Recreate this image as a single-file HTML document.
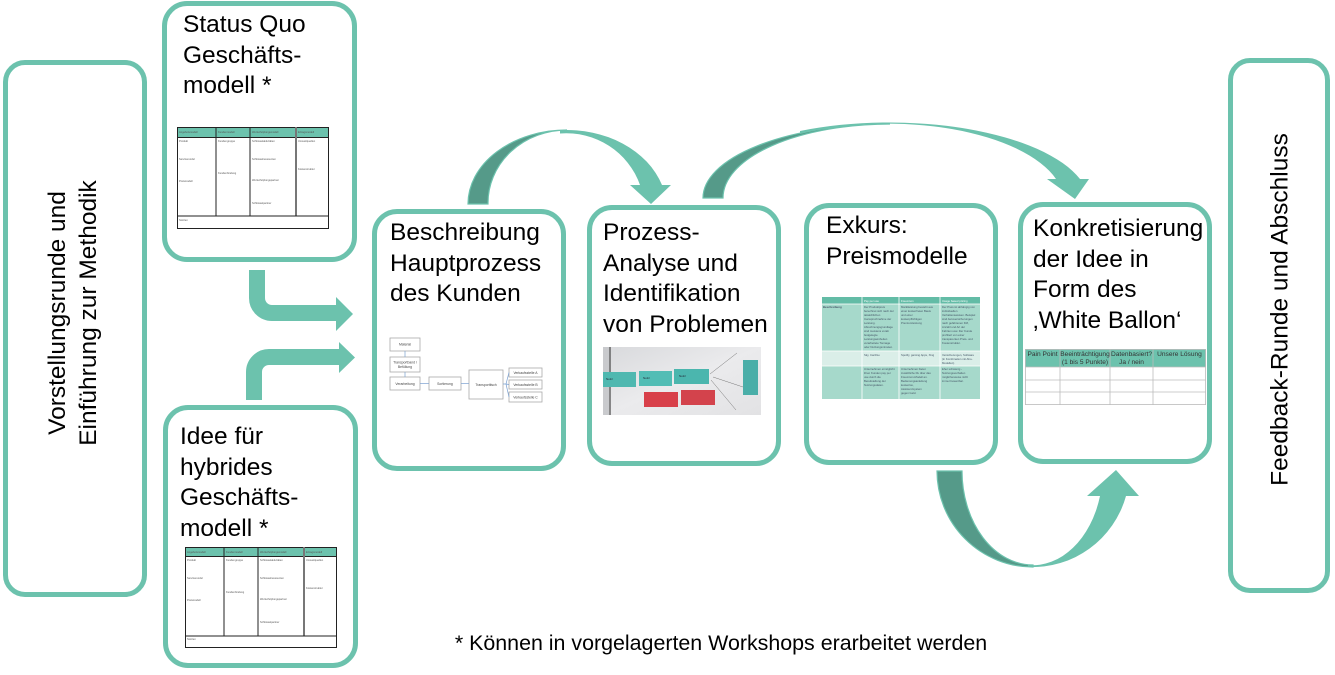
<!DOCTYPE html>
<html><head><meta charset="utf-8">
<style>
html,body{margin:0;padding:0;background:#fff;}
body{width:1335px;height:675px;position:relative;overflow:hidden;font-family:"Liberation Sans",Arial,sans-serif;color:#000;}
.box{position:absolute;box-sizing:border-box;border:5px solid #6cc2ad;border-radius:25px;background:#fff;}
.t{position:absolute;font-size:24.5px;line-height:30.5px;white-space:nowrap;}
.rot{position:absolute;font-size:24.5px;line-height:31px;text-align:center;white-space:nowrap;transform:rotate(-90deg);}
svg{position:absolute;overflow:visible;}
</style></head><body>

<!-- boxes -->
<div class="box" style="left:3px;top:60px;width:144px;height:537px;border-radius:22px;"></div>
<div class="box" style="left:162px;top:1px;width:195px;height:261px;"></div>
<div class="box" style="left:163px;top:405px;width:195px;height:263px;"></div>
<div class="box" style="left:372px;top:209px;width:194px;height:262px;"></div>
<div class="box" style="left:587px;top:205px;width:194px;height:261px;"></div>
<div class="box" style="left:804px;top:203px;width:194px;height:262px;"></div>
<div class="box" style="left:1018px;top:202px;width:194px;height:262px;"></div>
<div class="box" style="left:1228px;top:58px;width:102px;height:535px;border-radius:22px;"></div>

<!-- texts -->
<div class="rot" style="left:-127px;top:282px;width:400px;height:62px;">Vorstellungsrunde und<br>Einführung zur Methodik</div>
<div class="rot" style="left:1070px;top:294px;width:420px;height:31px;">Feedback-Runde und Abschluss</div>

<div class="t" style="left:183px;top:10px;">Status Quo<br>Geschäfts-<br>modell *</div>
<div class="t" style="left:180px;top:422px;">Idee für<br>hybrides<br>Geschäfts-<br>modell *</div>
<div class="t" style="left:390px;top:218px;">Beschreibung<br>Hauptprozess<br>des Kunden</div>
<div class="t" style="left:603px;top:218px;">Prozess-<br>Analyse und<br>Identifikation<br>von Problemen</div>
<div class="t" style="left:826px;top:211px;">Exkurs:<br>Preismodelle</div>
<div class="t" style="left:1033px;top:214px;">Konkretisierung<br>der Idee in<br>Form des<br>‚White Ballon‘</div>

<div style="position:absolute;left:371px;top:630px;width:700px;text-align:center;font-size:21.4px;line-height:26px;white-space:nowrap;">* Können in vorgelagerten Workshops erarbeitet werden</div>

<!-- Status Quo table -->
<svg style="left:177px;top:127px;" width="152" height="102" viewBox="0 0 152 102">
<rect x="0.5" y="0.5" width="151" height="101" fill="#fff" stroke="#222" stroke-width="1"/>
<rect x="0.5" y="0.5" width="151" height="10" fill="#6cc2ad" stroke="#222" stroke-width="1"/>
<line x1="39" y1="0" x2="39" y2="89" stroke="#222"/>
<line x1="73" y1="0" x2="73" y2="89" stroke="#222"/>
<line x1="119" y1="0" x2="119" y2="89" stroke="#777" stroke-width="2"/>
<line x1="0" y1="89" x2="152" y2="89" stroke="#222"/>
<g font-size="2.6" fill="#555">
<text x="2" y="6">Angebotsmodell</text><text x="41" y="6">Kundenmodell</text><text x="75" y="6">Wertschöpfungsmodell</text><text x="121" y="6">Ertragsmodell</text>
<text x="2" y="15">Produkt</text><text x="2" y="33">Servicemodul</text><text x="2" y="55">Preismodell</text>
<text x="41" y="15">Kundengruppe</text><text x="41" y="47">Kundenbindung</text>
<text x="75" y="15">Schlüsselaktivitäten</text><text x="75" y="33">Schlüsselressourcen</text><text x="75" y="54">Wertschöpfungspartner</text><text x="75" y="77">Schlüsselpartner</text>
<text x="121" y="15">Umsatzquellen</text><text x="121" y="43">Kostenstruktur</text>
<text x="2" y="94">Notizen</text>
</g>
</svg>

<!-- Idee table -->
<svg style="left:185px;top:547px;" width="152" height="101" viewBox="0 0 152 101">
<rect x="0.5" y="0.5" width="151" height="100" fill="#fff" stroke="#222" stroke-width="1"/>
<rect x="0.5" y="0.5" width="151" height="9" fill="#6cc2ad" stroke="#222" stroke-width="1"/>
<line x1="39" y1="0" x2="39" y2="89" stroke="#222"/>
<line x1="73" y1="0" x2="73" y2="89" stroke="#222"/>
<line x1="119" y1="0" x2="119" y2="89" stroke="#777" stroke-width="2"/>
<line x1="0" y1="89" x2="152" y2="89" stroke="#222"/>
<g font-size="2.6" fill="#555">
<text x="2" y="6">Angebotsmodell</text><text x="41" y="6">Kundenmodell</text><text x="75" y="6">Wertschöpfungsmodell</text><text x="121" y="6">Ertragsmodell</text>
<text x="2" y="14">Produkt</text><text x="2" y="32">Servicemodul</text><text x="2" y="54">Preismodell</text>
<text x="41" y="14">Kundengruppe</text><text x="41" y="46">Kundenbindung</text>
<text x="75" y="14">Schlüsselaktivitäten</text><text x="75" y="32">Schlüsselressourcen</text><text x="75" y="53">Wertschöpfungspartner</text><text x="75" y="76">Schlüsselpartner</text>
<text x="121" y="14">Umsatzquellen</text><text x="121" y="42">Kostenstruktur</text>
<text x="2" y="93">Notizen</text>
</g>
</svg>

<!-- Beschreibung process diagram -->
<svg style="left:385px;top:333px;" width="160" height="75" viewBox="385 333 160 75">
<g fill="#fff" stroke="#aaa" stroke-width="0.8">
<rect x="390" y="338" width="30" height="13"/>
<rect x="390" y="357" width="30" height="15"/>
<rect x="390" y="377" width="30" height="13"/>
<rect x="429" y="377" width="32" height="13"/>
<rect x="469" y="370" width="34" height="29"/>
<rect x="509" y="368" width="33" height="9"/>
<rect x="509" y="380" width="33" height="9"/>
<rect x="509" y="392" width="33" height="10"/>
</g>
<g stroke="#7aa0d0" stroke-width="0.7" fill="none">
<line x1="405" y1="357" x2="405" y2="351"/>
<line x1="405" y1="377" x2="405" y2="372"/>
<line x1="420" y1="383.5" x2="429" y2="383.5"/>
<line x1="461" y1="383.5" x2="469" y2="383.5"/>
<path d="M503,384 L506,384 L509,372.5 M506,384 L509,384.5 M506,384 L509,397"/>
</g>
<g font-size="3.4" fill="#444" text-anchor="middle">
<text x="405" y="345.5">Material</text>
<text x="405" y="363.5">Transportband /</text><text x="405" y="368">Befüllung</text>
<text x="405" y="385">Verarbeitung</text>
<text x="445" y="385">Sortierung</text>
<text x="486" y="386">Transporttisch</text>
<text x="525.5" y="374">Verkaufsstelle A</text>
<text x="525.5" y="386">Verkaufsstelle B</text>
<text x="525.5" y="398.5">Verkaufsstelle C</text>
</g>
</svg>

<!-- Prozess photo -->
<svg style="left:603px;top:347px;" width="158" height="68" viewBox="0 0 158 68">
<defs><linearGradient id="pg" x1="0" y1="0" x2="1" y2="1"><stop offset="0" stop-color="#d8d9dc"/><stop offset="0.5" stop-color="#ebebed"/><stop offset="1" stop-color="#e2e2e4"/></linearGradient></defs>
<rect width="158" height="68" fill="url(#pg)"/>
<rect x="0" y="0" width="6" height="68" fill="#c9cacd"/>
<line x1="7" y1="0" x2="7" y2="68" stroke="#444" stroke-width="1.2"/>
<g stroke="#777" stroke-width="0.5" fill="none">
<line x1="107" y1="27" x2="134" y2="6"/>
<line x1="110" y1="30" x2="140" y2="40"/>
<line x1="108" y1="33" x2="133" y2="63"/>
</g>
<rect x="0" y="25" width="33" height="15" fill="#4fb8b0"/>
<rect x="36" y="24" width="33" height="15" fill="#52bdb5"/>
<rect x="71" y="22" width="35" height="15" fill="#4bb6ae"/>
<rect x="140" y="13" width="15" height="35" fill="#4aaea8"/>
<rect x="41" y="45" width="34" height="15" fill="#d8404a"/>
<rect x="78" y="43" width="34" height="15" fill="#d3434c"/>
<g font-size="3" fill="#223"><text x="3" y="33">Notiz</text><text x="40" y="32">Notiz</text><text x="76" y="30">Notiz</text></g>
</svg>

<!-- Exkurs table -->
<svg style="left:822px;top:297px;" width="158" height="102" viewBox="0 0 158 102">
<rect x="0" y="0" width="158" height="7" fill="#63bca6"/>
<rect x="0" y="7" width="158" height="47" fill="#a6d9cb"/>
<rect x="0" y="54" width="158" height="15" fill="#daeee8"/>
<rect x="0" y="69" width="158" height="33" fill="#a6d9cb"/>
<g stroke="#fff" stroke-width="0.8">
<line x1="40" y1="0" x2="40" y2="102"/><line x1="77" y1="0" x2="77" y2="102"/><line x1="118" y1="0" x2="118" y2="102"/>
<line x1="0" y1="7" x2="158" y2="7"/><line x1="0" y1="54" x2="158" y2="54"/><line x1="0" y1="69" x2="158" y2="69"/>
</g>
<g font-size="2.8" fill="#456">
<text x="42" y="5" fill="#fff">Pay per use</text><text x="79" y="5" fill="#fff">Freemium</text><text x="120" y="5" fill="#fff">Usage based pricing</text>
<text x="1" y="11" font-weight="bold">Beschreibung</text>
<text x="42" y="11">Der Produktpreis</text><text x="42" y="15">berechnet sich nach der</text><text x="42" y="19">tatsächlichen</text><text x="42" y="23">Inanspruchnahme der</text><text x="42" y="27">Leistung.</text><text x="42" y="31">Abrechnungsgrundlage</text><text x="42" y="35">sind meistens vorab</text><text x="42" y="39">festgelegte</text><text x="42" y="43">Leistungseinheiten</text><text x="42" y="47">verarbeitete Tonnage</text><text x="42" y="51">oder Nutzungsminuten.</text>
<text x="79" y="11">Marktleistung besteht aus</text><text x="79" y="15">einer kostenfreien Basis</text><text x="79" y="19">und einer</text><text x="79" y="23">kostenpflichtigen</text><text x="79" y="27">Premiumleistung</text>
<text x="120" y="11">Der Preis ist abhängig von</text><text x="120" y="15">individuellen</text><text x="120" y="19">Verhaltensweisen. Beispiel</text><text x="120" y="23">sind Autoversicherungen</text><text x="120" y="27">nach gefahrenen KM,</text><text x="120" y="31">Anzahl und Art der</text><text x="120" y="35">Fahrten usw. Der Kunde</text><text x="120" y="39">profitiert von einer</text><text x="120" y="43">transparenten Preis- und</text><text x="120" y="47">Kostenstruktur.</text>
<text x="42" y="59">Sky, Car2Go</text><text x="79" y="59">Spotify, gaming Apps, Xing</text><text x="120" y="59">Versicherungen, Software</text><text x="120" y="63">(in Kombination mit Abo-</text><text x="120" y="67">Modellen)</text>
<text x="42" y="73">Unternehmen ermöglicht</text><text x="42" y="77">ihren Kunden pay per</text><text x="42" y="81">use durch die</text><text x="42" y="85">Bereitstellung der</text><text x="42" y="89">Nutzungsdaten.</text>
<text x="79" y="73">Unternehmen bietet</text><text x="79" y="77">zusätzliche DL über das</text><text x="79" y="81">Freemium-Modell an.</text><text x="79" y="85">Bedienungsanleitung</text><text x="79" y="89">kostenlos,</text><text x="79" y="93">Assistenzsystem</text><text x="79" y="97">gegen Geld.</text>
<text x="120" y="73">Eher schwierig -</text><text x="120" y="77">Nutzungsverhalten</text><text x="120" y="81">möglicherweise nicht</text><text x="120" y="85">immer bewertbar.</text>
</g>
</svg>

<!-- Konkretisierung table -->
<svg style="left:1025px;top:349px;" width="181" height="56" viewBox="0 0 181 56">
<rect x="0" y="0" width="181" height="18" fill="#6cc2ad"/>
<g stroke="#bbb" stroke-width="0.8" fill="none">
<rect x="0.4" y="0.4" width="180.2" height="55.2"/>
<line x1="35" y1="0" x2="35" y2="56"/><line x1="85" y1="0" x2="85" y2="56"/><line x1="128" y1="0" x2="128" y2="56"/>
<line x1="0" y1="18" x2="181" y2="18"/><line x1="0" y1="31" x2="181" y2="31"/><line x1="0" y1="43" x2="181" y2="43"/>
</g>
<g font-size="6.6" fill="#333" text-anchor="middle">
<text x="17.5" y="7">Pain Point</text>
<text x="60" y="7">Beeinträchtigung</text><text x="60" y="15">(1 bis 5 Punkte)</text>
<text x="106.5" y="7">Datenbasiert?</text><text x="106.5" y="15">Ja / nein</text>
<text x="154.5" y="7">Unsere Lösung</text>
</g>
</svg>

<!-- arrows -->
<svg style="left:0;top:0;" width="1335" height="675" viewBox="0 0 1335 675">
<!-- L arrows -->
<path d="M257,270 L257,298 A15,15 0 0 0 272,313 L338,313" fill="none" stroke="#6cc2ad" stroke-width="16"/>
<polygon points="336,297 353,314 336,331" fill="#6cc2ad"/>
<path d="M254,400 L254,372 A15,15 0 0 1 269,357 L341,357" fill="none" stroke="#6cc2ad" stroke-width="16"/>
<polygon points="339,342 355,357.5 339,373" fill="#6cc2ad"/>

<!-- arc 1 -->
<path d="M468,204 A99,74 0 0 1 567,130 A79,73 0 0 0 488,204 Z" fill="#559a89" stroke="#6cc2ad" stroke-width="1.2"/>
<path d="M560,130.2 A100,80 0 0 1 662,185 L671,185 L651,204 L630,185 L640,185 A78,77 0 0 0 560,133.5 Z" fill="#6cc2ad"/>

<!-- arc 2 -->
<path d="M703,198 A187,74 0 0 1 890,124 A167,74 0 0 0 723,198 Z" fill="#559a89" stroke="#6cc2ad" stroke-width="1.2"/>
<path d="M800,131 A200,81 0 0 1 1080,179 L1089,179 L1075,199 L1047,179 L1056,179 A176,78 0 0 0 800,134 Z" fill="#6cc2ad"/>

<!-- arc 3 -->
<path d="M937,471 A96,96 0 0 0 1033,567 L1033,565 A71,94 0 0 1 962,471 Z" fill="#559a89" stroke="#6cc2ad" stroke-width="1.2"/>
<path d="M1028,567 A97,97 0 0 0 1126,496 L1139,496 L1116,470 L1087,496 L1100,496 A70,95 0 0 1 1028,565 Z" fill="#6cc2ad"/>
</svg>

</body></html>
